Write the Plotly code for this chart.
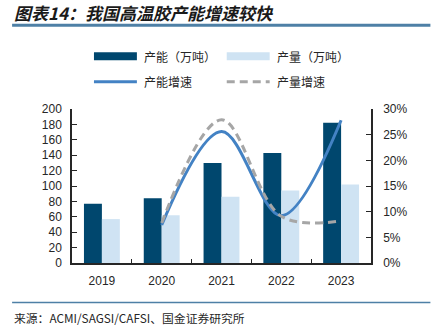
import plotly.graph_objects as go

years = ["2019", "2020", "2021", "2022", "2023"]
capacity = [77, 84, 130, 143, 182]          # 产能（万吨）
output = [57, 62, 86, 94, 102]              # 产量（万吨）
growth_years = ["2020", "2021", "2022", "2023"]
capacity_growth = [0.074, 0.256, 0.092, 0.278]   # 产能增速
output_growth = [0.078, 0.279, 0.091, 0.082]     # 产量增速

DARK = "#00476E"
LIGHT = "#CFE3F3"
BLUE = "#4382C4"
GREY = "#A6A6A6"
AXIS = "#262626"
TICKFONT = dict(family="Liberation Sans, Arial", size=12, color="#262626")
CJK = "Noto Sans CJK SC"

fig = go.Figure()
fig.add_trace(go.Bar(x=years, y=capacity, name="产能（万吨）", marker=dict(color=DARK, line=dict(width=0))))
fig.add_trace(go.Bar(x=years, y=output, name="产量（万吨）", marker=dict(color=LIGHT, line=dict(width=0))))
fig.add_trace(go.Scatter(x=growth_years, y=capacity_growth, name="产能增速", yaxis="y2", mode="lines",
                         line=dict(color=BLUE, width=3, shape="spline", smoothing=1.0)))
fig.add_trace(go.Scatter(x=growth_years, y=output_growth, name="产量增速", yaxis="y2", mode="lines",
                         line=dict(color=GREY, width=3, shape="spline", smoothing=1.0, dash="8px,5px")))

W, H = 431, 325
L, R, T, B = 72, 371.5, 109.3, 263.3

def px(x):
    return (x - L) / (R - L)

def py(y):
    return (B - y) / (B - T)

shapes = []
annotations = []
# legend (custom, matching reference swatches)
leg = [
    (94, 56.5, "bar", DARK, "产能（万吨）"),
    (227, 56.5, "bar", LIGHT, "产量（万吨）"),
    (94, 82, "line", BLUE, "产能增速"),
    (227, 82, "dash", GREY, "产量增速"),
]
for x0, yc, kind, col, label in leg:
    if kind == "bar":
        shapes.append(dict(type="rect", xref="paper", yref="paper", x0=px(x0), x1=px(x0 + 43),
                           y0=py(yc + 4), y1=py(yc - 4), fillcolor=col, line=dict(width=0)))
    else:
        shapes.append(dict(type="line", xref="paper", yref="paper", x0=px(x0), x1=px(x0 + 43),
                           y0=py(yc), y1=py(yc), line=dict(color=col, width=3,
                           dash="solid" if kind == "line" else "8px,5px")))
    annotations.append(dict(xref="paper", yref="paper", x=px(x0 + 48), y=py(yc), text=label,
                            showarrow=False, xanchor="left", yanchor="middle",
                            font=dict(family=CJK, size=12, color="#262626")))

# title and rules
annotations.append(dict(xref="paper", yref="paper", x=px(12), y=py(13), text="<b><i>图表14：我国高温胶产能增速较快</i></b>",
                        showarrow=False, xanchor="left", yanchor="middle",
                        font=dict(family=CJK, size=17, color="#1a1a1a")))
annotations.append(dict(xref="paper", yref="paper", x=px(12), y=py(317.5), text="来源：ACMI/SAGSI/CAFSI、国金证券研究所",
                        showarrow=False, xanchor="left", yanchor="middle",
                        font=dict(family=CJK, size=11.8, color="#262626")))
shapes.append(dict(type="line", xref="paper", yref="paper", x0=px(12), x1=px(431), y0=py(25.5), y1=py(25.5),
                   line=dict(color="#4E80A6", width=3)))
shapes.append(dict(type="line", xref="paper", yref="paper", x0=px(12), x1=px(431), y0=py(302.7), y1=py(302.7),
                   line=dict(color="#4E80A6", width=1.5)))

fig.update_layout(
    width=W, height=H,
    margin=dict(l=L, r=W - R, t=T, b=H - B, pad=0),
    paper_bgcolor="white", plot_bgcolor="white",
    barmode="group", bargap=0.4, bargroupgap=0,
    showlegend=False,
    shapes=shapes, annotations=annotations,
    xaxis=dict(type="category", showline=True, linecolor=AXIS, linewidth=1.5, ticks="inside", ticklen=4,
               tickcolor=AXIS, tickson="boundaries", tickfont=TICKFONT, showgrid=False, mirror=False,
               ticklabelstandoff=6),
    yaxis=dict(range=[0, 200], dtick=20, showline=True, linecolor=AXIS, linewidth=1.5, ticks="inside",
               ticklen=5, tickcolor=AXIS, tickfont=TICKFONT, showgrid=False, zeroline=False, ticklabelstandoff=6),
    yaxis2=dict(range=[0, 0.30], dtick=0.05, tickformat=".0%", overlaying="y", side="right", showline=True,
                linecolor=AXIS, linewidth=1.5, ticks="inside", ticklen=5, tickcolor=AXIS, tickfont=TICKFONT,
                showgrid=False, zeroline=False, ticklabelstandoff=8),
)

fig.write_html("out.html")
